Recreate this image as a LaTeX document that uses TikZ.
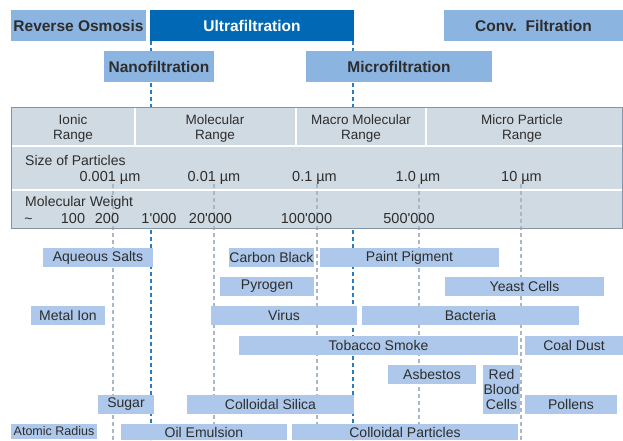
\documentclass[tikz,border=0pt]{standalone}
\usepackage{fontspec}
\newfontfamily\lsans{Liberation Sans}
\definecolor{midblue}{HTML}{8CB4E1}
\definecolor{darkblue}{HTML}{0068B4}
\definecolor{itemblue}{HTML}{ADC8EA}
\definecolor{tablefill}{HTML}{D0DAE2}
\definecolor{tableedge}{HTML}{8496A5}
\definecolor{guidegray}{HTML}{A9B8C4}
\definecolor{guideblue}{HTML}{2A7CC1}
\definecolor{txt}{HTML}{2D2D2D}
\newcommand\mybox[7][item]{\node[#1, minimum width={(#5-#3)*1pt}, minimum height={(#6-#4)*1pt}] (#2) at ({(#3+#5)/2},{(#4+#6)/2}) {#7};}
\begin{document}
\begin{tikzpicture}[x=1pt,y=-1pt,
  topbox/.style={fill=midblue, text=txt, inner sep=0pt, font=\lsans\bfseries\fontsize{15.5}{18}\selectfont},
  ultrabox/.style={topbox, fill=darkblue, text=white},
  item/.style={fill=itemblue, text=txt, inner sep=0pt, align=center, font=\lsans\fontsize{14}{15}\selectfont},
  smallitem/.style={item, font=\lsans\fontsize{12.5}{14}\selectfont},
  tabtext/.style={text=txt, inner sep=0pt, align=center, font=\lsans\fontsize{14}{15}\selectfont},
  numtext/.style={tabtext, font=\lsans\fontsize{14.5}{15}\selectfont},
  headtext/.style={tabtext, font=\lsans\fontsize{13.5}{15}\selectfont},
  blueguide/.style={guideblue, line width=1.2pt, dash pattern=on 4pt off 3pt},
  grayguide/.style={guidegray, line width=1.2pt, dash pattern=on 4pt off 3pt},
  sepline/.style={white, line width=2pt}]
\useasboundingbox (0,0) rectangle (623,440);
% blue guide lines (behind everything)
\coordinate (b1t) at (151,41); \coordinate (b1b) at (151,440);
\coordinate (b2t) at (353,41); \coordinate (b2b) at (353,440);
\draw[blueguide] (b1t) -- (b1b);
\draw[blueguide] (b2t) -- (b2b);
% table
\fill[tablefill] (11,107) rectangle (622,228);
\foreach \x in {113,214,317,419,521} \draw[grayguide] (\x,184) -- (\x,440);
\draw[sepline] (11,146) -- (622,146);
\draw[sepline] (11,190) -- (622,190);
\draw[sepline] (135,107) -- (135,146);
\draw[sepline] (296,107) -- (296,146);
\draw[sepline] (426,107) -- (426,146);
\draw[tableedge, line width=1pt] (11,107) rectangle (622,228);
% header texts
\node[headtext] (h1) at (73,129) {Ionic\\Range};
\node[headtext] (h2) at (215,129) {Molecular\\Range};
\node[headtext] (h3) at (361,129) {Macro Molecular\\Range};
\node[headtext] (h4) at (522,129) {Micro Particle\\Range};
% size row
\node[tabtext, anchor=west] (sz) at (25,160) {Size of Particles};
\node[numtext] (s1) at (110,178) {0.001 µm};
\node[numtext] (s2) at (214,178) {0.01 µm};
\node[numtext] (s3) at (314.5,178) {0.1 µm};
\node[numtext] (s4) at (418,178) {1.0 µm};
\node[numtext] (s5) at (521.5,178) {10 µm};
% molecular weight row
\node[tabtext, anchor=west] (mw) at (25,203) {Molecular Weight};
\node[tabtext] (m0) at (28.5,221) {\textasciitilde};
\node[numtext] (m1) at (73,219) {100};
\node[numtext] (m2) at (107,219) {200};
\node[numtext] (m3) at (159,219) {1'000};
\node[numtext] (m4) at (210.5,219) {20'000};
\node[numtext] (m5) at (306.5,219) {100'000};
\node[numtext] (m6) at (409,219) {500'000};
% top boxes
\mybox[topbox]{ro}{11}{10}{146}{41}{Reverse Osmosis}
\mybox[ultrabox]{uf}{150}{10}{354}{41}{Ultrafiltration}
\mybox[topbox]{cf}{444}{10}{623}{41}{Conv.\ \ Filtration}
\mybox[topbox]{nf}{104}{51}{214}{82}{Nanofiltration}
\mybox[topbox]{mf}{306}{51}{492}{82}{Microfiltration}
% items
\mybox{aq}{43}{248}{153}{267}{Aqueous Salts}
\mybox{cb}{229}{248}{314}{267}{Carbon Black}
\mybox{pp}{320}{248}{499}{267}{Paint Pigment}
\mybox{py}{220}{277}{314}{296}{Pyrogen}
\mybox{yc}{445}{277}{604}{296}{Yeast Cells}
\mybox{mi}{31}{306}{105}{325}{Metal Ion}
\mybox{vi}{211}{306}{357}{325}{Virus}
\mybox{ba}{362}{306}{579}{325}{Bacteria}
\mybox{ts}{239}{336}{518}{355}{Tobacco Smoke}
\mybox{cd}{525}{336}{623}{355}{Coal Dust}
\mybox{as}{388}{365}{476}{384}{Asbestos}
\mybox{rb}{483}{365}{520}{414}{Red\\Blood\\Cells}
\mybox{su}{98}{395}{154}{414}{Sugar}
\mybox{cs}{187}{395}{354}{414}{Colloidal Silica}
\mybox{po}{525}{395}{617}{414}{Pollens}
\mybox[smallitem]{ar}{11}{424}{97}{439}{Atomic Radius}
\mybox{oe}{121}{424}{287}{440}{Oil Emulsion}
\mybox{cp}{292}{424}{518}{440}{Colloidal Particles}
\end{tikzpicture}
\end{document}
